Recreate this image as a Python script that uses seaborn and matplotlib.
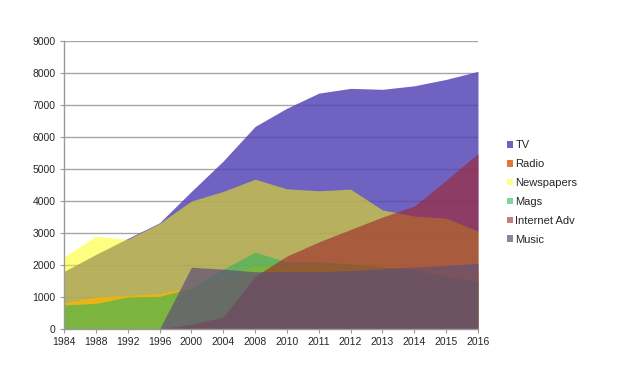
import matplotlib.pyplot as plt
import numpy as np
import seaborn as sns
from matplotlib.patches import Patch

years = ["1984", "1988", "1992", "1996", "2000", "2004", "2008",
         "2010", "2011", "2012", "2013", "2014", "2015", "2016"]

tv = [1800, 2330, 2830, 3320, 4300, 5250, 6330, 6900, 7370, 7520, 7490, 7600, 7800, 8050]
radio = [820, 1000, 1050, 1110, 1300, 1620, 1980, 2000, 2020, 2000, 1970, 1900, 1850, 1800]
newspapers = [2250, 2900, 2800, 3300, 4000, 4300, 4680, 4380, 4320, 4370, 3720, 3530, 3460, 3060]
mags = [750, 800, 1000, 1020, 1280, 1870, 2400, 2100, 2100, 2030, 1950, 1850, 1650, 1480]
internet_adv = [0, 0, 0, 0, 150, 380, 1650, 2280, 2720, 3110, 3500, 3840, 4650, 5480]
music = [0, 0, 0, 0, 1930, 1870, 1790, 1790, 1790, 1830, 1890, 1940, 1980, 2050]

series = [
    ("TV", tv, "#5746b5", 0.85),
    ("Radio", radio, "#dc6a1e", 0.9),
    ("Newspapers", newspapers, "#ffff00", 0.5),
    ("Mags", mags, "#32b45a", 0.6),
    ("Internet Adv", internet_adv, "#a02328", 0.6),
    ("Music", music, "#5f5078", 0.7),
]

sns.set_style("white")
plt.rcParams["font.family"] = ["Liberation Sans", "DejaVu Sans"]

fig = plt.figure(figsize=(6.17, 3.82), dpi=100)
ax = fig.add_axes([64 / 617, 1 - 329 / 382, (478 - 64) / 617, (329 - 41) / 382])

x = np.arange(len(years))
for name, values, color, alpha in series:
    ax.fill_between(x, 0, values, color=color, alpha=alpha, linewidth=0, zorder=2)

ax.set_xlim(0, len(years) - 1)
ax.set_ylim(0, 9000)
ax.set_xticks(x)
ax.set_xticklabels(years)
ax.set_yticks(np.arange(0, 9001, 1000))
ax.tick_params(axis="both", labelsize=7.5, length=3, width=0.8, color="#999999", pad=3)
ax.tick_params(axis="y", direction="out", left=True)
ax.tick_params(axis="x", direction="out", bottom=True)

ax.grid(axis="y", color="#a6a6a6", linewidth=1, zorder=1)
ax.set_axisbelow(True)
for side in ["top", "right"]:
    ax.spines[side].set_visible(False)
for side in ["left", "bottom"]:
    ax.spines[side].set_color("#999999")
    ax.spines[side].set_linewidth(1)

handles = [Patch(facecolor=color, alpha=alpha, edgecolor="none") for _, _, color, alpha in series]
labels = [name for name, _, _, _ in series]
fig.legend(handles, labels, loc="center left", bbox_to_anchor=(507 / 617, 1 - 192.5 / 382),
           frameon=False, fontsize=8, handlelength=0.55, handleheight=0.55, borderpad=0,
           borderaxespad=0, handletextpad=0.2, labelspacing=0.8)

fig.savefig("out.png", dpi=100)
plt.close(fig)
